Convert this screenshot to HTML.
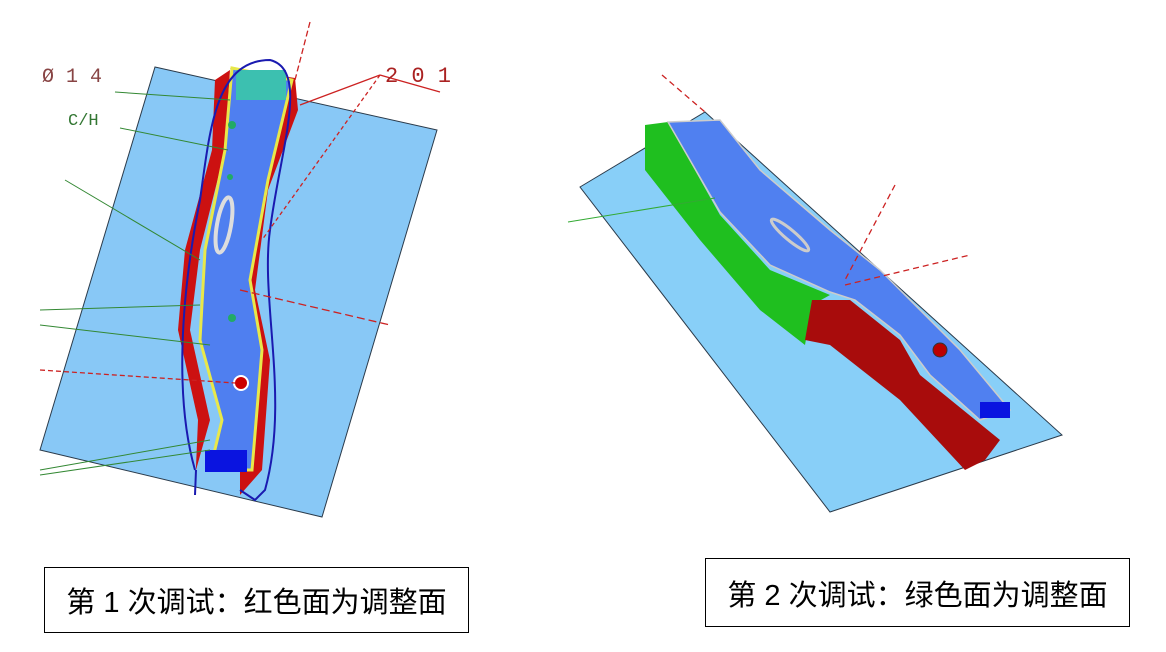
<!DOCTYPE html>
<html><head><meta charset="utf-8"><style>
body{margin:0;background:#fff;width:1166px;height:652px;overflow:hidden;position:relative;font-family:"Liberation Sans","Noto Sans CJK SC",sans-serif}
.box{position:absolute;border:1px solid #000;background:#fff;font-size:29px;display:flex;align-items:center;justify-content:center;color:#000}
</style></head><body>
<svg width="1166" height="652" style="position:absolute;left:0;top:0">
<polygon points="155,67 437,130 322,517 40,450" fill="#88c8f6" stroke="#2a3a4a" stroke-width="1"/>
<path d="M230,68 L295,78 L298,110 L268,190 L255,290 L270,360 L262,470 L240,495 L240,470 L250,380 L238,300 L245,200 L270,110 Z" fill="#cc1111"/>
<path d="M196,470 L210,420 L190,330 L200,250 L225,150 L230,70 L215,80 L212,150 L185,250 L178,330 L198,420 L195,490 Z" fill="#cc1111"/>
<path d="M232,68 L292,80 L268,180 L250,280 L262,350 L252,470 L210,470 L222,420 L200,340 L205,250 L225,150 Z" fill="#4f7ff0" stroke="#e8e84a" stroke-width="3"/>
<rect x="236" y="70" width="50" height="30" fill="#3cc0b0"/>
<rect x="205" y="450" width="42" height="22" fill="#0a14e0"/>
<path d="M195,470 C175,400 180,300 200,200 C210,130 215,60 270,60 C310,70 280,150 270,230 C260,300 290,400 265,490 L255,500 L240,490 M196,470 L195,495" fill="none" stroke="#1a1ab0" stroke-width="2"/>
<ellipse cx="224" cy="225" rx="7" ry="28" fill="none" stroke="#ddd" stroke-width="4" transform="rotate(10 224 225)"/>
<circle cx="241" cy="383" r="7" fill="#c00" stroke="#fff" stroke-width="2"/>
<circle cx="232" cy="318" r="4" fill="#2a6"/><circle cx="232" cy="125" r="4" fill="#2a6"/><circle cx="230" cy="177" r="3" fill="#2a6"/>
<g stroke="#338833" stroke-width="1" fill="none">
<path d="M115,92 L230,100"/><path d="M120,128 L228,150"/><path d="M65,180 L200,260"/>
<path d="M40,310 L200,305"/><path d="M40,325 L210,345"/><path d="M40,470 L210,440"/><path d="M40,475 L210,450"/>
</g>
<g stroke="#cc2222" stroke-width="1.3" fill="none">
<path d="M310,22 L295,80" stroke-dasharray="6,3"/>
<path d="M380,75 L440,92"/><path d="M380,75 L300,105"/><path d="M380,75 L262,240" stroke-dasharray="4,3"/>
<path d="M240,290 L390,325" stroke-dasharray="8,4"/>
<path d="M40,370 L235,383" stroke-dasharray="5,3"/>
</g>
<text x="42" y="82" fill="#884444" font-size="20" font-family="Liberation Mono">Ø 1 4</text>
<text x="68" y="125" fill="#337733" font-size="17" font-family="Liberation Mono">C/H</text>
<text x="385" y="82" fill="#aa2222" font-size="22" font-family="Liberation Mono">2 0 1</text>
<polygon points="580,187 705,112 1062,435 830,512" fill="#88cff8" stroke="#2a3a4a" stroke-width="1"/>
<path d="M645,125 L668,122 L720,215 L770,270 L830,295 L812,305 L805,345 L760,310 L700,240 L645,170 Z" fill="#1fbf1f"/>
<path d="M812,300 L850,300 L900,340 L920,375 L1000,440 L985,460 L965,470 L900,400 L830,345 L805,340 Z" fill="#a80c0c"/>
<path d="M668,122 L720,120 L760,170 L830,230 L880,270 L920,310 L960,350 L1010,410 L980,420 L930,375 L900,335 L855,300 L830,292 L770,265 L720,212 Z" fill="#5080f0" stroke="#ccc" stroke-width="1.5"/>
<rect x="980" y="402" width="30" height="16" fill="#0a14e0"/>
<circle cx="940" cy="350" r="7" fill="#b00" stroke="#333"/>
<ellipse cx="790" cy="235" rx="24" ry="5" fill="none" stroke="#ccc" stroke-width="3" transform="rotate(40 790 235)"/>
<g stroke="#cc2222" stroke-width="1.3" fill="none" stroke-dasharray="6,4">
<path d="M662,75 L705,112"/><path d="M895,185 L845,280"/><path d="M845,285 L970,255"/>
</g>
<path d="M568,222 L715,198" stroke="#33aa33" stroke-width="1"/>
</svg>
<div class="box" style="left:44px;top:567px;width:423px;height:64px">第 1 次调试：红色面为调整面</div>
<div class="box" style="left:705px;top:558px;width:423px;height:67px">第 2 次调试：绿色面为调整面</div>
</body></html>
